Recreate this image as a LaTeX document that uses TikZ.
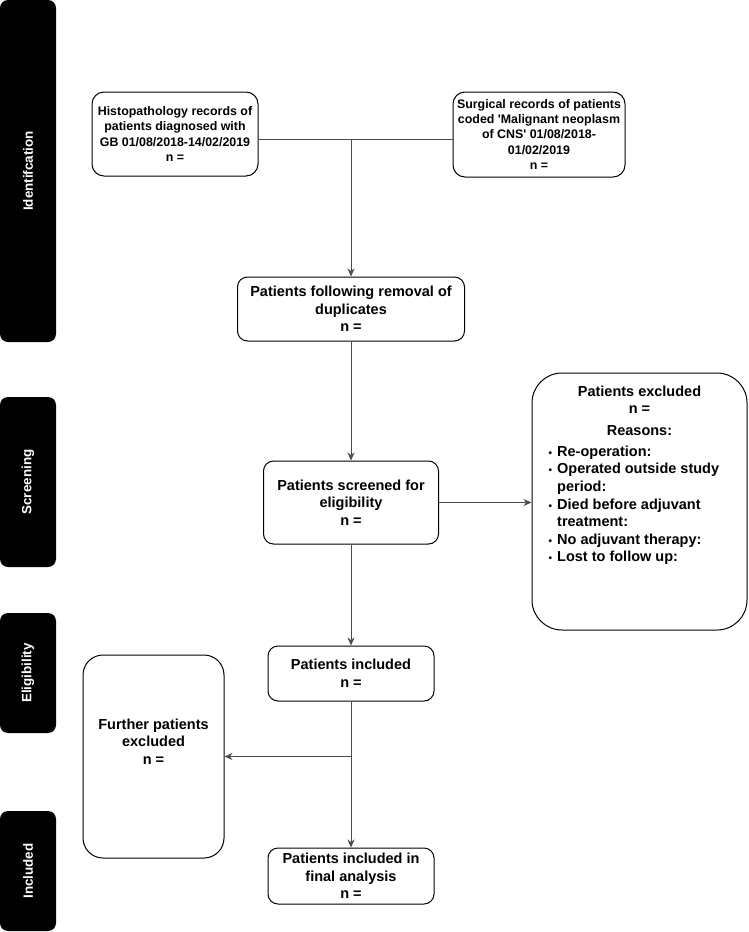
\documentclass[tikz,border=0pt]{standalone}
\usepackage{fontspec}
\setmainfont{Liberation Sans}
\usetikzlibrary{arrows.meta, positioning, calc}

\newcommand{\dotitem}{{\fontsize{10}{10}\selectfont\textbullet}}

\begin{document}
\begin{tikzpicture}[
        x=1pt, y=-1pt,
        >={Stealth[length=8pt, width=7pt]},
        box/.style={draw, line width=1pt, rounded corners=#1, align=center, inner sep=0pt,
            font=\bfseries\fontsize{14.5}{17.6}\selectfont},
        box/.default=10pt,
        smallbox/.style={box=12pt, font=\bfseries\fontsize{12.4}{15.4}\selectfont},
        bar/.style={fill=black, rounded corners=8pt, rotate=90, minimum height=56pt, inner sep=0pt,
            text=white, font=\bfseries\fontsize{13.4}{16}\selectfont},
        txt/.style={inner sep=0pt, align=center, font=\bfseries\fontsize{14.5}{17.6}\selectfont},
        link/.style={draw=black!70, line width=0.9pt}
    ]
        \useasboundingbox (0,0) rectangle (748,932);

        % Phase bars
        \node[bar, minimum width=342pt] (idBar) at (28,171) {Identifcation};
        \node[bar, minimum width=170pt] (scrBar) at (28,482) {Screening};
        \node[bar, minimum width=120pt] (eligBar) at (28,673) {Eligibility};
        \node[bar, minimum width=120pt] (inclBar) at (28,871) {Included};

        % Boxes
        \node[smallbox, minimum width=166pt, minimum height=84pt] (hist) at (175,134)
            {Histopathology records of\\patients diagnosed with\\GB 01/08/2018-14/02/2019\\n =};
        \node[smallbox, minimum width=172pt, minimum height=85pt] (surg) at (539,134.5)
            {Surgical records of patients\\coded \textquotesingle Malignant neoplasm\\of CNS\textquotesingle{} 01/08/2018-\\01/02/2019\\n =};
        \node[box, minimum width=227pt, minimum height=64pt] (dups) at (351,309)
            {Patients following removal of\\duplicates\\n =};
        \node[box, minimum width=175pt, minimum height=83pt] (scr) at (351,502.5)
            {Patients screened for\\eligibility\\n =};
        \node[box=30pt, minimum width=215pt, minimum height=257pt] (excl) at (639.5,501.5) {};
        \node[txt, anchor=north] (exclHead) at ([yshift=-13pt]excl.north)
            {Patients excluded\\n =\\[4pt]Reasons:};
        \node[txt, anchor=north west, align=left] (exclList) at ([xshift=17pt, yshift=-8pt]exclHead.south -| excl.west)
            {\begin{tabular}{@{}l@{\hspace{5pt}}l@{}}
                \dotitem & Re-operation:\\
                \dotitem & Operated outside study\\
                         & period:\\
                \dotitem & Died before adjuvant\\
                         & treatment:\\
                \dotitem & No adjuvant therapy:\\
                \dotitem & Lost to follow up:
            \end{tabular}};
        \node[box, minimum width=166pt, minimum height=55pt] (incl) at (351,673.5)
            {Patients included\\n =};
        \node[box=20pt, minimum width=141pt, minimum height=203pt] (further) at (153.5,756.5) {};
        \node[txt] (furtherText) at ([yshift=15pt]further.center)
            {Further patients\\excluded\\n =};
        \node[box, minimum width=166pt, minimum height=56pt] (final) at (351,876)
            {Patients included in\\final analysis\\n =};

        % Connectors
        \coordinate (split) at (351,139);
        \coordinate (branch) at (incl.south |- further.east);
        \draw[link] (hist.east |- split) -- (surg.west |- split);
        \draw[link, ->] (split) -- (dups.north);
        \draw[link, ->] (dups) -- (scr);
        \draw[link, ->] (scr.east) -- (excl.west |- scr.east);
        \draw[link, ->] (scr) -- (incl);
        \draw[link, ->] (incl) -- (final);
        \draw[link, ->] (branch) -- (further.east);
    \end{tikzpicture}
\end{document}
